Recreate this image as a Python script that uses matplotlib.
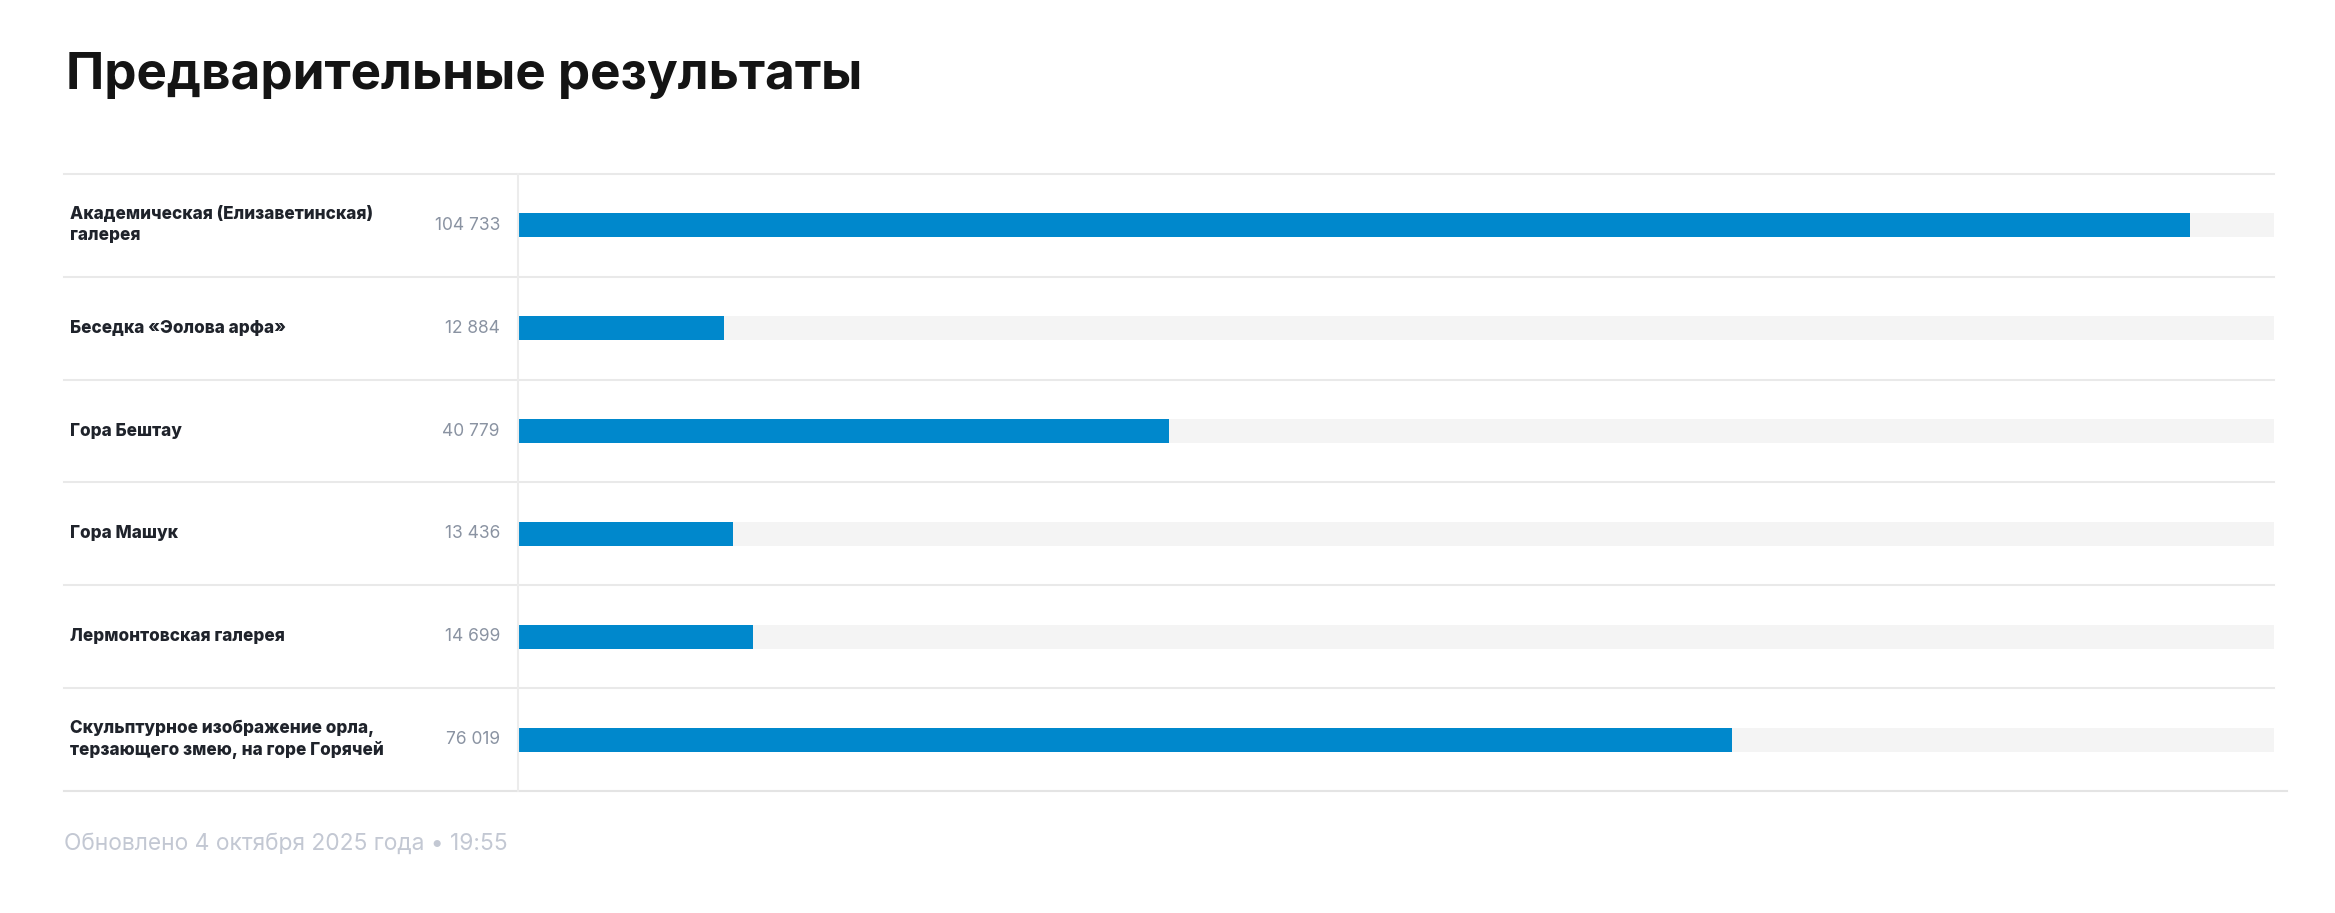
import matplotlib
matplotlib.use("Agg")
import matplotlib.pyplot as plt
from matplotlib.transforms import blended_transform_factory

categories = [
    "Академическая (Елизаветинская)\nгалерея",
    "Беседка «Эолова арфа»",
    "Гора Бештау",
    "Гора Машук",
    "Лермонтовская галерея",
    "Скульптурное изображение орла,\nтерзающего змею, на горе Горячей",
]
values = [104733, 12884, 40779, 13436, 14699, 76019]
value_labels = ["104 733", "12 884", "40 779", "13 436", "14 699", "76 019"]
title = "Предварительные результаты"
footer = "Обновлено 4 октября 2025 года • 19:55"

W, H = 2335, 913
fig = plt.figure(figsize=(W / 100, H / 100), dpi=100)
fig.patch.set_facecolor("white")

def fx(px):
    return px / W

def fy(py):
    return 1 - py / H

top_px, bot_px = 174, 791
left_px, div_px, right_px = 64, 518, 2274
n = len(categories)

ax = fig.add_axes([fx(div_px), fy(bot_px), fx(right_px) - fx(div_px), fy(top_px) - fy(bot_px)])
xmax = max(values) * 1.05
ys = list(range(n))
bar_h = 24 / 103
ax.barh(ys, [xmax] * n, height=bar_h, color="#f4f4f4", zorder=1)
ax.barh(ys, values, height=bar_h, color="#0088cc", zorder=2)
ax.set_xlim(0, xmax)
ax.set_ylim(n - 0.5, -0.5)
ax.axis("off")

row_h = (bot_px - top_px) / n
for i in range(n):
    y = top_px + i * row_h
    fig.add_artist(plt.Line2D([fx(left_px), fx(right_px)], [fy(y), fy(y)], color="#e9e9e9", lw=1.5))
fig.add_artist(plt.Line2D([fx(left_px), fx(2287)], [fy(bot_px), fy(bot_px)], color="#e4e4e4", lw=1.5))
fig.add_artist(plt.Line2D([fx(div_px), fx(div_px)], [fy(top_px), fy(bot_px)], color="#ececec", lw=1.5))

tr = blended_transform_factory(fig.transFigure, ax.transData)
for i, (lab, vl) in enumerate(zip(categories, value_labels)):
    ax.text(fx(70), i, lab, transform=tr, ha="left", va="center", fontsize=12.35,
            family="Inter", fontweight="heavy", color="#1f232b", linespacing=1.3)
    ax.text(fx(500), i, vl, transform=tr, ha="right", va="center", fontsize=12.5,
            family="Inter", color="#8a93a2")

t = fig.text(fx(66), fy(89), title, ha="left", va="baseline", fontsize=36,
             family="Inter", fontweight="bold", color="#141414")
f = fig.text(fx(64), fy(850), footer, ha="left", va="baseline", fontsize=16,
             family="Inter", color="#c3c8d3")

fig.canvas.draw()
r = fig.canvas.get_renderer()
for txt, target in [(t, 796), (f, 445)]:
    w = txt.get_window_extent(r).width
    txt.set_fontsize(txt.get_fontsize() * target / w)

fig.savefig("out.png", dpi=100, facecolor="white")
